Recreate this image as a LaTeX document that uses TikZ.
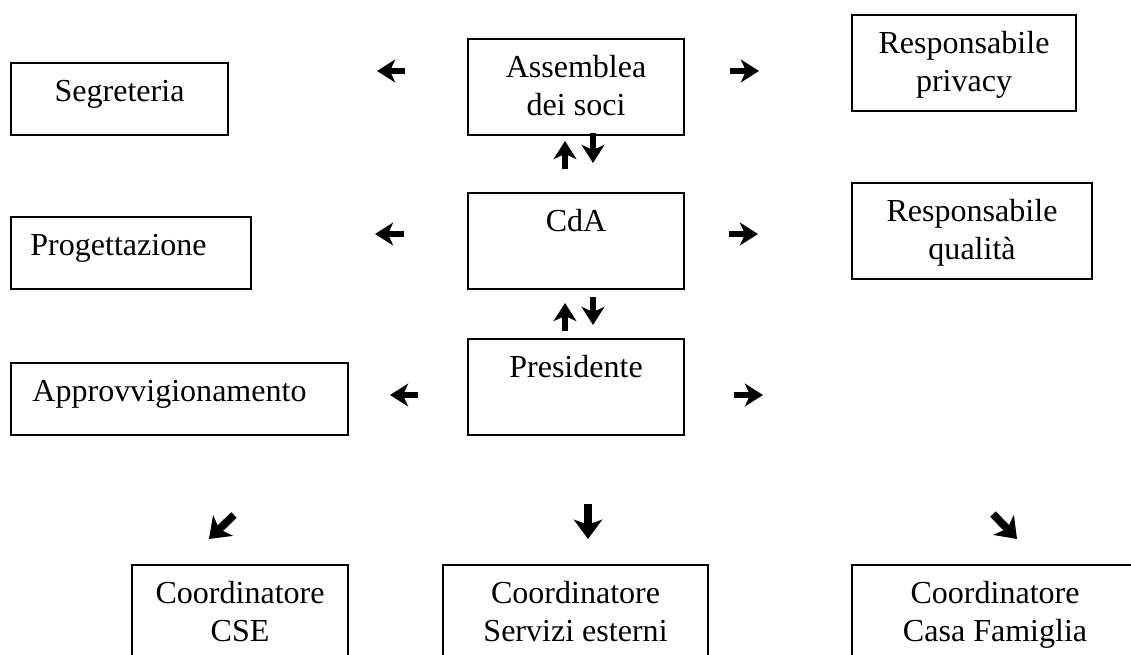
\documentclass[tikz,border=0pt]{standalone}
\usepackage{fontspec}
\setmainfont{Liberation Serif}
\usetikzlibrary{positioning,arrows.meta}

\newcommand{\pxl}{0.387pt}

\tikzset{
  frame/.style={draw, line width=0.8pt, anchor=north west, inner sep=0pt},
  boxtext/.style={inner sep=0pt, align=center, font=\fontsize{12.4}{14.5}\selectfont},
  glyph/.style={line width=2.4pt, -{Stealth[length=7pt, width=8.8pt, inset=2pt]}},
  bigglyph/.style={line width=3pt, -{Stealth[length=7.5pt, width=11pt, inset=2pt]}}
}

\begin{document}
\begin{tikzpicture}[x=\pxl, y=-\pxl]
\useasboundingbox (0,0) rectangle (1131,655);
\clip (0,0) rectangle (1131,655);

% frames
\node[frame, minimum width=217*\pxl, minimum height=72*\pxl] (segreteria) at (10,62) {};
\node[frame, minimum width=216*\pxl, minimum height=96*\pxl] (assemblea) at (467,38) {};
\node[frame, minimum width=224*\pxl, minimum height=96*\pxl] (privacy) at (851,14) {};
\node[frame, minimum width=240*\pxl, minimum height=72*\pxl] (progettazione) at (10,216) {};
\node[frame, minimum width=216*\pxl, minimum height=96*\pxl] (cda) at (467,192) {};
\node[frame, minimum width=240*\pxl, minimum height=96*\pxl] (qualita) at (851,182) {};
\node[frame, minimum width=337*\pxl, minimum height=72*\pxl] (approvv) at (10,362) {};
\node[frame, minimum width=216*\pxl, minimum height=96*\pxl] (presidente) at (467,338) {};
\node[frame, minimum width=216*\pxl, minimum height=100*\pxl] (cse) at (131,564) {};
\node[frame, minimum width=265*\pxl, minimum height=100*\pxl] (servizi) at (442,564) {};
\node[frame, minimum width=286*\pxl, minimum height=100*\pxl] (casa) at (851,564) {};

% texts
\node[boxtext, below=5pt of segreteria.north] (segreteria-t) {\strut Segreteria};
\node[boxtext, below=5pt of assemblea.north] (assemblea-t) {\strut Assemblea\\dei soci};
\node[boxtext, below=5pt of privacy.north] (privacy-t) {\strut Responsabile\\privacy};
\node[boxtext, below right=5pt and 7.7pt of progettazione.north west] (progettazione-t) {\strut Progettazione};
\node[boxtext, below=5pt of cda.north] (cda-t) {\strut CdA};
\node[boxtext, below=5pt of qualita.north] (qualita-t) {\strut Responsabile\\qualità};
\node[boxtext, below right=5pt and 8.5pt of approvv.north west] (approvv-t) {\strut Approvvigionamento};
\node[boxtext, below=5pt of presidente.north] (presidente-t) {\strut Presidente};
\node[boxtext, below=5pt of cse.north] (cse-t) {\strut Coordinatore\\CSE};
\node[boxtext, below=5pt of servizi.north] (servizi-t) {\strut Coordinatore\\Servizi esterni};
\node[boxtext, below=5pt of casa.north] (casa-t) {\strut Coordinatore\\Casa Famiglia};

% arrow glyphs
\coordinate (w1a) at (405,71);  \coordinate (w1b) at (377,71);
\coordinate (e1a) at (730,71);  \coordinate (e1b) at (759,71);
\coordinate (w2a) at (404,234); \coordinate (w2b) at (375,234);
\coordinate (e2a) at (729,234); \coordinate (e2b) at (758,234);
\coordinate (w3a) at (418,395); \coordinate (w3b) at (390,395);
\coordinate (e3a) at (734,395); \coordinate (e3b) at (763,395);
\coordinate (u1a) at (565,169); \coordinate (u1b) at (565,141);
\coordinate (d1a) at (593,133); \coordinate (d1b) at (593,163);
\coordinate (u2a) at (565,331); \coordinate (u2b) at (565,303);
\coordinate (d2a) at (593,297); \coordinate (d2b) at (593,325);
\coordinate (swa) at (234,515); \coordinate (swb) at (209,539);
\coordinate (sa)  at (588,504); \coordinate (sb)  at (588,539);
\coordinate (sea) at (993,514); \coordinate (seb) at (1017,539);

\draw[glyph] (w1a) -- (w1b);
\draw[glyph] (e1a) -- (e1b);
\draw[glyph] (w2a) -- (w2b);
\draw[glyph] (e2a) -- (e2b);
\draw[glyph] (w3a) -- (w3b);
\draw[glyph] (e3a) -- (e3b);
\draw[glyph] (u1a) -- (u1b);
\draw[glyph] (d1a) -- (d1b);
\draw[glyph] (u2a) -- (u2b);
\draw[glyph] (d2a) -- (d2b);
\draw[bigglyph] (swa) -- (swb);
\draw[bigglyph] (sa) -- (sb);
\draw[bigglyph] (sea) -- (seb);
\end{tikzpicture}
\end{document}
